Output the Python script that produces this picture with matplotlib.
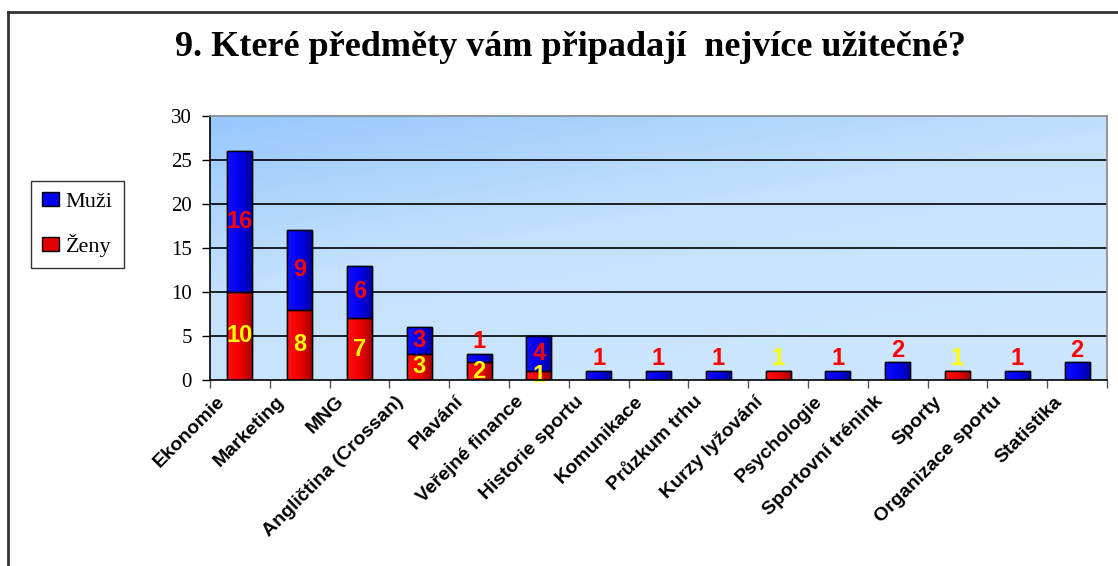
import numpy as np
import matplotlib
matplotlib.use('Agg')
import matplotlib.pyplot as plt
import matplotlib.transforms as mtransforms
from matplotlib.lines import Line2D
from matplotlib.patches import Patch
from matplotlib.colors import LinearSegmentedColormap

# ---------------------------------------------------------------------- #
# Data
# ---------------------------------------------------------------------- #
categories = ['Ekonomie', 'Marketing', 'MNG', 'Angličtina (Crossan)', 'Plavání',
              'Veřejné finance', 'Historie sportu', 'Komunikace', 'Průzkum trhu',
              'Kurzy lyžování', 'Psychologie', 'Sportovní trénink', 'Sporty',
              'Organizace sportu', 'Statistika']
zeny = [10, 8, 7, 3, 2, 1, 0, 0, 0, 1, 0, 0, 1, 0, 0]
muzi = [16, 9, 6, 3, 1, 4, 1, 1, 1, 0, 1, 2, 0, 1, 2]
yticks = [0, 5, 10, 15, 20, 25, 30]
title = '9. Které předměty vám připadají  nejvíce užitečné?'

W, H = 1118, 566
fig = plt.figure(figsize=(W / 100, H / 100), dpi=100)
fig.patch.set_facecolor('white')

# outer chart frame (top and left edges visible)
fx, fy = 8 / W, 1 - 12 / H
fig.add_artist(Line2D([fx, 1.0], [fy, fy], color='#333333', lw=2))
fig.add_artist(Line2D([fx, fx], [0, fy], color='#333333', lw=2))

ax = fig.add_axes([210 / W, 1 - 380 / H, 897 / W, 264 / H])
n = len(categories)
x = np.arange(n)

# plot-area gradient background: darker at top-left, lighter at bottom-right
gy, gx = np.mgrid[0:1:200j, 0:1:200j]   # row 0 = top
t = np.clip(0.75 * gy + 0.45 * gx, 0, 1)
bg = LinearSegmentedColormap.from_list('bg', ['#96C8FC', '#C4E1FD', '#CCE6FF'])
ax.imshow(t, cmap=bg, extent=[-0.5, n - 0.5, 0, 30], origin='upper',
          aspect='auto', zorder=0, vmin=0, vmax=1)

for v in yticks[1:-1]:
    ax.axhline(v, color='black', lw=1.2, zorder=1)

bw = 0.42
red_cm = LinearSegmentedColormap.from_list('r', ['#FF1010', '#F00000', '#A00000'])
blue_cm = LinearSegmentedColormap.from_list('b', ['#1010FF', '#0000EE', '#00009A'])
grad = np.linspace(0, 1, 64).reshape(1, -1)


def shade(bars, cmap):
    for p in bars:
        if p.get_height() <= 0:
            continue
        x0, y0 = p.get_x(), p.get_y()
        im = ax.imshow(grad, cmap=cmap, aspect='auto', zorder=2,
                       extent=[x0, x0 + p.get_width(), y0, y0 + p.get_height()])
        im.set_clip_path(p)


bz = ax.bar(x, zeny, bw, color='#E00000', edgecolor='black', lw=1, zorder=2)
bm = ax.bar(x, muzi, bw, bottom=zeny, color='#0000DD', edgecolor='black', lw=1, zorder=2)
shade(bz, red_cm)
shade(bm, blue_cm)
for p in list(bz) + list(bm):
    if p.get_height() > 0:
        ax.add_patch(plt.Rectangle((p.get_x(), p.get_y()), p.get_width(), p.get_height(),
                                   fill=False, edgecolor='black', lw=1, zorder=3))
ax.set_xlim(-0.5, n - 0.5)
ax.set_ylim(0, 30)

# data labels: inside the segment, or just above a short top segment
lab = dict(fontsize=17, fontweight='bold', family='Liberation Sans', zorder=4, ha='center')
for i in range(n):
    z, m = zeny[i], muzi[i]
    if z > 0:
        if m == 0 and z <= 2:
            ax.text(i, z + 0.1, str(z), color='#FFFF00', va='bottom', **lab)
        else:
            ax.text(i, z / 2, str(z), color='#FFFF00', va='center', **lab)
    if m > 0:
        if m <= 2:
            ax.text(i, z + m + 0.1, str(m), color='#FF0000', va='bottom', **lab)
        else:
            ax.text(i, z + m / 2, str(m), color='#FF0000', va='center', **lab)

# axes styling
ax.spines['left'].set_color('black')
ax.spines['bottom'].set_color('black')
ax.spines['top'].set_color('#888888')
ax.spines['right'].set_color('#888888')
for s in ax.spines.values():
    s.set_linewidth(1.2)
    s.set_zorder(5)

ax.set_yticks(yticks)
ax.set_yticklabels([str(v) for v in yticks], family='Liberation Serif', fontsize=15)
ax.tick_params(axis='y', direction='out', length=6, width=1, pad=7)

ax.set_xticks(x)
ax.set_xticklabels(categories, rotation=45, ha='right', va='top',
                   rotation_mode='anchor', family='Liberation Sans',
                   fontweight='bold', fontsize=14)
ax.tick_params(axis='x', which='major', length=0, pad=8)
shift = mtransforms.ScaledTranslation(-24 / 100, -2 / 100, fig.dpi_scale_trans)
for tl in ax.get_xticklabels():
    tl.set_transform(tl.get_transform() + shift)
ax.set_xticks(np.arange(-0.5, n, 1.0), minor=True)
ax.tick_params(axis='x', which='minor', direction='out', length=6, width=1, color='#555555')

fig.text(570 / W, 1 - 47 / H, title, ha='center', va='center',
         family='Liberation Serif', fontweight='bold', fontsize=26)

handles = [Patch(facecolor='#0000EE', edgecolor='black', label='Muži'),
           Patch(facecolor='#E00000', edgecolor='black', label='Ženy')]
leg = fig.legend(handles=handles, loc='upper left',
                 bbox_to_anchor=(31 / W, 1 - 181 / H), borderaxespad=0,
                 frameon=True, fancybox=False, edgecolor='black',
                 prop={'family': 'Liberation Serif', 'size': 16},
                 labelspacing=1.0, handlelength=0.75, handleheight=0.6,
                 handletextpad=0.3, borderpad=0.5)
leg.get_frame().set_linewidth(1)

fig.savefig('out.png', dpi=100)
